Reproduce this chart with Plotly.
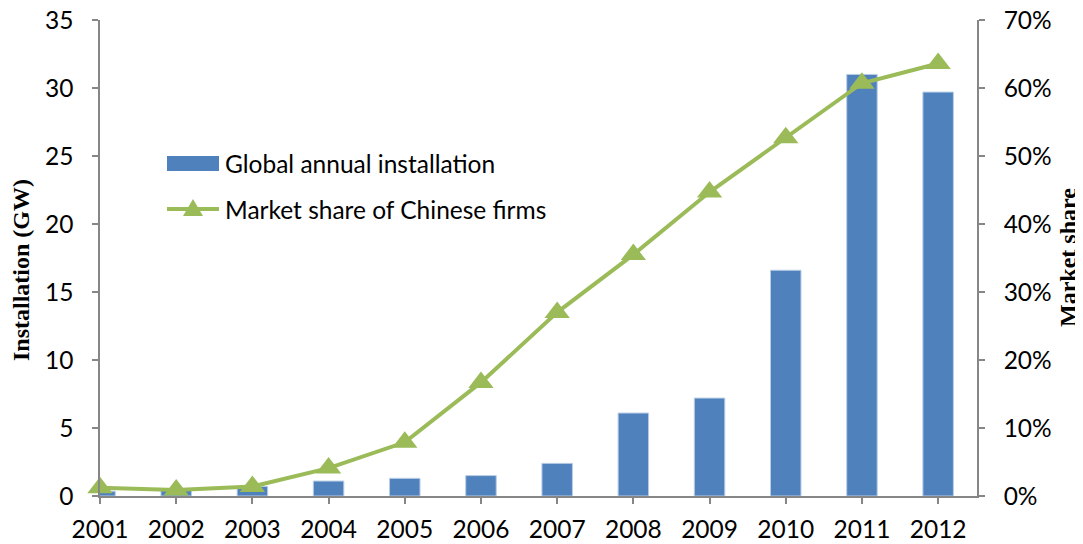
import plotly.graph_objects as go

years = ["2001", "2002", "2003", "2004", "2005", "2006", "2007", "2008", "2009", "2010", "2011", "2012"]
installation_gw = [0.35, 0.5, 0.7, 1.1, 1.3, 1.5, 2.4, 6.1, 7.2, 16.6, 31.0, 29.7]
market_share = [0.012, 0.009, 0.014, 0.041, 0.079, 0.167, 0.27, 0.355, 0.447, 0.527, 0.607, 0.636]
left_ticks = [0, 5, 10, 15, 20, 25, 30, 35]
right_ticks = [0, 0.1, 0.2, 0.3, 0.4, 0.5, 0.6, 0.7]
legend_labels = ["Global annual installation", "Market share of Chinese firms"]

xpos = list(range(len(years)))
AXIS = "#868686"
FONT = "Lato"
FS = 24.5
BAR_C = "#4F81BD"
LINE_C = "#9BBB59"

OFF = 8  # page body margin
W, H = 1083, 544
PL, PR, PT, PB = 100, 977, 20, 496  # plot area in page pixels
PW, PH = PR - PL, PB - PT


def px(x):
    return (x - PL) / PW


def py(y):
    return (PB - y) / PH


fig = go.Figure()
fig.add_trace(go.Bar(
    x=xpos, y=installation_gw, name=legend_labels[0],
    marker=dict(color=BAR_C, line=dict(color="#B9CDE5", width=1)),
    width=0.4,
))
fig.add_trace(go.Scatter(
    x=xpos, y=market_share, name=legend_labels[1], yaxis="y2",
    mode="lines+markers", line=dict(color=LINE_C, width=4),
    marker=dict(symbol="triangle-up", size=22, color=LINE_C),
    cliponaxis=False,
))

shapes = [
    dict(type="rect", xref="paper", yref="paper",
         x0=px(167), x1=px(219), y0=py(171), y1=py(156),
         fillcolor=BAR_C, line=dict(width=0)),
    dict(type="line", xref="paper", yref="paper",
         x0=px(167), x1=px(219), y0=py(209), y1=py(209),
         line=dict(color=LINE_C, width=4)),
    dict(type="path", xref="paper", yref="paper",
         path=f"M {px(183)} {py(216)} L {px(203)} {py(216)} L {px(193)} {py(199)} Z",
         fillcolor=LINE_C, line=dict(width=0)),
]

axis_common = dict(
    showline=True, linecolor=AXIS, linewidth=1.5,
    ticks="outside", ticklen=6, tickcolor=AXIS, tickwidth=1.5,
    showgrid=False, zeroline=False, ticklabeloverflow="allow",
    tickfont=dict(family=FONT, size=FS, color="black"),
)

fig.update_layout(
    width=W - OFF, height=H - OFF,
    margin=dict(l=PL - OFF, r=W - PR, t=PT - OFF, b=H - PB, autoexpand=False),
    paper_bgcolor="white", plot_bgcolor="white",
    font=dict(family=FONT, size=FS, color="black"),
    showlegend=False,
    xaxis=dict(range=[0, 11.51], tickmode="array", tickvals=xpos, ticktext=years,
               ticklabelstandoff=5, **axis_common),
    yaxis=dict(range=[0, 35], tickmode="array", tickvals=left_ticks,
               ticklabelstandoff=14, **axis_common),
    yaxis2=dict(range=[0, 0.7], tickmode="array", tickvals=right_ticks, tickformat=".0%",
                overlaying="y", side="right", anchor="x",
                ticklabelstandoff=14, **axis_common),
    shapes=shapes,
    annotations=[
        dict(text=legend_labels[0], xref="paper", yref="paper",
             x=px(223), y=py(163), xanchor="left", yanchor="middle",
             showarrow=False, font=dict(family=FONT, size=FS, color="black")),
        dict(text=legend_labels[1], xref="paper", yref="paper",
             x=px(223), y=py(209), xanchor="left", yanchor="middle",
             showarrow=False, font=dict(family=FONT, size=FS, color="black")),
        dict(text="<b>Installation (GW)</b>", xref="paper", yref="paper",
             x=px(21), y=py(270), xanchor="center", yanchor="middle",
             textangle=-90, showarrow=False,
             font=dict(family="Liberation Serif", size=24, color="black")),
        dict(text="<b>Market share</b>", xref="paper", yref="paper",
             x=px(1068), y=py(258), xanchor="center", yanchor="middle",
             textangle=-90, showarrow=False,
             font=dict(family="Liberation Serif", size=24, color="black")),
    ],
)

fig.write_html("out.html")
